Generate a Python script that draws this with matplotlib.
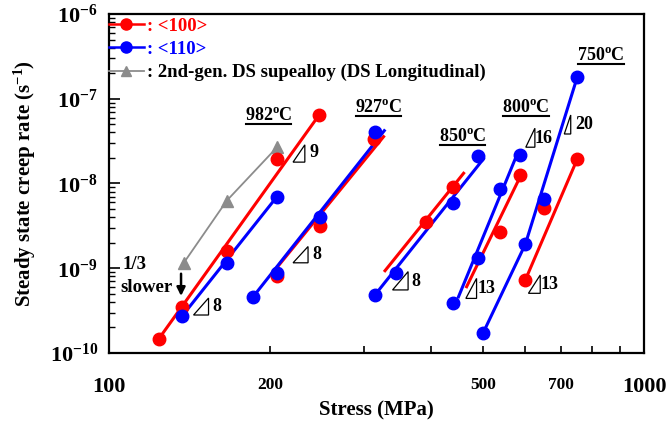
import matplotlib
matplotlib.use("Agg")
import matplotlib.pyplot as plt
from matplotlib.patches import Polygon
from matplotlib.lines import Line2D
from matplotlib.ticker import FixedLocator, NullFormatter, LogLocator

plt.rcParams['font.family'] = ['Liberation Serif', 'DejaVu Serif']
plt.rcParams['font.weight'] = 'bold'
plt.rcParams['mathtext.fontset'] = 'custom'
plt.rcParams['mathtext.rm'] = 'Liberation Serif:bold'
plt.rcParams['mathtext.bf'] = 'Liberation Serif:bold'
plt.rcParams['mathtext.it'] = 'Liberation Serif:bold'

RED = '#ff0000'
BLUE = '#0000ff'
GRAY = '#8c8c8c'

# ---- data (stress MPa, creep rate 1/s) ----
# 982 C
s982_100 = [124, 137, 166, 206, 247]
r982_100 = [1.48e-10, 3.46e-10, 1.61e-9, 1.93e-8, 6.43e-8]
s982_110 = [137, 166, 206]
r982_110 = [2.73e-10, 1.16e-9, 6.99e-9]
s982_ds = [138, 166, 206]
r982_ds = [1.16e-9, 6.27e-9, 2.67e-8]
# 927 C
s927_100 = [206, 248, 313]
r927_100 = [8.17e-10, 3.15e-9, 3.32e-8]
s927_110 = [186, 206, 248, 314]
r927_110 = [4.62e-10, 8.86e-10, 4.06e-9, 4.09e-8]
# 850 C
s850_100 = [391, 440]
r850_100 = [3.48e-9, 9.02e-9]
s850_110 = [314, 344, 440, 490]
r850_110 = [4.83e-10, 8.86e-10, 5.84e-9, 2.13e-8]
# 800 C
s800_100 = [538, 587]
r800_100 = [2.70e-9, 1.26e-8]
s800_110 = [440, 490, 538, 587]
r800_110 = [3.92e-10, 1.31e-9, 8.55e-9, 2.17e-8]
# 750 C
s750_100 = [600, 650, 750]
r750_100 = [7.27e-10, 5.18e-9, 1.93e-8]
s750_110 = [500, 600, 650, 750]
r750_110 = [1.71e-10, 1.92e-9, 6.51e-9, 1.79e-7]

# fitted lines (vertices)
fit_red = [
    ([124, 247], [1.48e-10, 6.43e-8]),
    ([203, 326], [9.1e-10, 3.57e-8]),
    ([328, 460], [9.35e-10, 1.32e-8]),
    ([466, 589], [6.05e-10, 1.26e-8]),
    ([600, 750], [7.27e-10, 1.93e-8]),
]
fit_blue = [
    ([137, 206], [2.73e-10, 6.99e-9]),
    ([186, 327], [4.62e-10, 4.2e-8]),
    ([314, 501], [4.83e-10, 1.95e-8]),
    ([450, 574], [4.6e-10, 1.93e-8]),
    ([500, 600, 750], [1.71e-10, 1.92e-9, 1.79e-7]),
]

temps = ['982', '927', '850', '800', '750']
temp_pos = [(0.298, 0.702), (0.503, 0.723), (0.661, 0.640), (0.779, 0.723), (0.920, 0.879)]

slopes = ['9', '8', '8', '8', '13', '13', '16', '20']
# triangle (x0, x1, y0, y1) and label pos, axes fraction
slope_tri = [
    (0.344, 0.366, 0.563, 0.614, 0.374, 0.590),
    (0.344, 0.372, 0.266, 0.314, 0.381, 0.290),
    (0.158, 0.186, 0.112, 0.162, 0.193, 0.137),
    (0.530, 0.559, 0.186, 0.240, 0.566, 0.210),
    (0.667, 0.687, 0.161, 0.220, 0.688, 0.190),
    (0.784, 0.806, 0.176, 0.230, 0.806, 0.202),
    (0.779, 0.796, 0.607, 0.663, 0.796, 0.632),
    (0.851, 0.863, 0.646, 0.702, 0.871, 0.674),
]

xticks = [100, 200, 500, 700, 1000]
xminor = [300, 400, 600, 800, 900]

fig = plt.figure(figsize=(6.66, 4.24), dpi=100)
ax = fig.add_axes([0.1637, 0.1675, 0.8033, 0.7995])

ms = 9
lw = 2.2
fs = 13
for xs, ys in fit_red:
    ax.plot(xs, ys, color=RED, lw=lw, zorder=2)
for xs, ys in fit_blue:
    ax.plot(xs, ys, color=BLUE, lw=lw, zorder=2)
ax.plot(s982_ds, r982_ds, color=GRAY, lw=1.3, marker='^', ms=8, zorder=2)

for s, r in [(s982_100, r982_100), (s927_100, r927_100), (s850_100, r850_100), (s800_100, r800_100), (s750_100, r750_100)]:
    ax.plot(s, r, 'o', color=RED, ms=ms, zorder=3)
for s, r in [(s982_110, r982_110), (s927_110, r927_110), (s850_110, r850_110), (s800_110, r800_110), (s750_110, r750_110)]:
    ax.plot(s, r, 'o', color=BLUE, ms=ms, zorder=4)

ax.set_xscale('log')
ax.set_yscale('log')
ax.set_xlim(100, 1000)
ax.set_ylim(1e-10, 1e-6)

# legend
h1, = ax.plot([], [], '-o', color=RED, lw=1.8, ms=8)
h2, = ax.plot([], [], '-o', color=BLUE, lw=1.8, ms=8)
h3, = ax.plot([], [], '-^', color=GRAY, lw=1.3, ms=7)
leg = ax.legend([h1, h2, h3], [': <100>', ': <110>', ': 2nd-gen. DS supealloy (DS Longitudinal)'],
                loc='upper left', bbox_to_anchor=(0.0, 0.99), frameon=False, fontsize=13.5,
                handlelength=1.85, handletextpad=0.2, labelspacing=0.33,
                borderaxespad=0.0, borderpad=0.0)
for t, c in zip(leg.get_texts(), [RED, BLUE, 'black']):
    t.set_color(c)

# temperature labels
temp_texts = []
for t, (px, py) in zip(temps, temp_pos):
    tt = ax.text(px, py, t + r'$\mathregular{^{o}}$C', transform=ax.transAxes,
                 ha='center', va='center', fontsize=fs)
    temp_texts.append(tt)

# slope triangles
for lab, (x0, x1, y0, y1, tx, ty) in zip(slopes, slope_tri):
    ax.add_patch(Polygon([(x0, y0), (x1, y0), (x1, y1)], closed=True, fill=False,
                         lw=0.9, edgecolor='black', transform=ax.transAxes))
    ax.text(tx, ty, lab, transform=ax.transAxes, ha='left', va='center', fontsize=fs)

# 1/3 slower
ax.text(0.026, 0.262, '1/3', transform=ax.transAxes, ha='left', va='center', fontsize=13.5)
ax.text(0.022, 0.192, 'slower', transform=ax.transAxes, ha='left', va='center', fontsize=13.5)
ax.annotate('', xy=(0.1346, 0.160), xytext=(0.1346, 0.242), xycoords='axes fraction',
            arrowprops=dict(arrowstyle='-|>,head_width=0.25,head_length=0.5', color='black', lw=1.8))

# axes styling
for sp in ax.spines.values():
    sp.set_linewidth(1.6)
ax.xaxis.set_major_locator(FixedLocator(xticks))
ax.xaxis.set_minor_locator(FixedLocator(xminor))
ax.xaxis.set_minor_formatter(NullFormatter())
ax.set_xticklabels([str(v) for v in xticks])
for lab, v in zip(ax.get_xticklabels(), xticks):
    lab.set_fontsize(16 if v in (100, 1000) else 12.5)
    lab.set_fontweight('bold')
ax.tick_params(axis='x', which='both', direction='in', length=5, width=1.2, pad=17, top=False)

ax.set_yticks([1e-10, 1e-9, 1e-8, 1e-7, 1e-6])
ax.yaxis.set_minor_locator(LogLocator(base=10, subs=range(2, 10), numticks=10))
ax.yaxis.set_minor_formatter(NullFormatter())
ax.set_yticklabels([r'$\mathregular{10^{-10}}$', r'$\mathregular{10^{-9}}$', r'$\mathregular{10^{-8}}$',
                    r'$\mathregular{10^{-7}}$', r'$\mathregular{10^{-6}}$'], fontsize=16)
ax.tick_params(axis='y', which='major', direction='in', length=8, width=1.2, pad=8, right=False)
ax.tick_params(axis='y', which='minor', direction='in', length=4, width=1.0, right=False)

ax.set_xlabel('Stress (MPa)', fontsize=15, fontweight='bold', labelpad=3)
ax.set_ylabel('Steady state creep rate (s$^{\\mathregular{-1}}$)', fontsize=15, fontweight='bold', labelpad=8)

# underline the temperature labels
fig.canvas.draw()
r = fig.canvas.get_renderer()
inv = fig.transFigure.inverted()
for tt in temp_texts:
    bb = tt.get_window_extent(r)
    (fx0, fy0), (fx1, fy1) = inv.transform([(bb.x0 + 1, bb.y0), (bb.x1 - 1, bb.y0)])
    fig.add_artist(Line2D([fx0, fx1], [fy0, fy1], color='black', lw=1.5, transform=fig.transFigure))

fig.savefig('out.png', dpi=100)
